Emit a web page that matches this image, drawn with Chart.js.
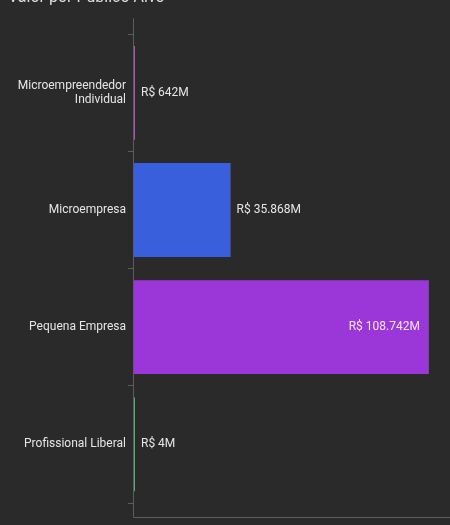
<!DOCTYPE html>
<html>
<head>
<meta charset="utf-8">
<script src="https://cdn.jsdelivr.net/npm/chart.js@4"></script>
<style>
  html, body { margin: 0; padding: 0; background: #2a2a2a; overflow: hidden; }
  #wrap { position: absolute; left: 0; top: -20px; width: 450px; height: 545px; }
</style>
</head>
<body>
<div id="wrap"><canvas id="chart"></canvas></div>
<script>
const categories = [['Microempreendedor', 'Individual'], 'Microempresa', 'Pequena Empresa', 'Profissional Liberal'];
const values = [642, 35868, 108742, 4];
const barColors = ['#b84dbb', '#3a5fdc', '#9b36d9', '#4caf78'];
const axisMax = 116500;

Chart.defaults.font.family = 'Roboto, sans-serif';
Chart.defaults.color = '#e6e6e6';

function fmt(v) {
    return 'R$ ' + v.toLocaleString('pt-BR') + 'M';
}

// axis lines reach past the category bands in the reference
const axisLines = {
    id: 'axisLines',
    afterDraw(chart) {
        const ctx = chart.ctx;
        const a = chart.chartArea;
        ctx.save();
        ctx.strokeStyle = '#5c5c5c';
        ctx.lineWidth = 1;
        ctx.beginPath();
        ctx.moveTo(a.left + 0.5, a.top - 16);
        ctx.lineTo(a.left + 0.5, a.bottom + 14.5);
        ctx.lineTo(chart.width, a.bottom + 14.5);
        ctx.stroke();
        ctx.restore();
    }
};

// value labels: outside for short bars, inside right for long ones
const barLabels = {
    id: 'barLabels',
    afterDatasetsDraw(chart) {
        const ctx = chart.ctx;
        const meta = chart.getDatasetMeta(0);
        ctx.save();
        ctx.font = '12px Roboto, sans-serif';
        ctx.textBaseline = 'middle';
        meta.data.forEach((bar, i) => {
            const text = fmt(values[i]);
            if (values[i] > axisMax / 2) {
                ctx.textAlign = 'right';
                ctx.fillStyle = '#f4e8fb';
                ctx.fillText(text, bar.x - 9, bar.y);
            } else {
                ctx.textAlign = 'left';
                ctx.fillStyle = '#e6e6e6';
                ctx.fillText(text, Math.max(bar.x, bar.base + 2) + 6, bar.y);
            }
        });
        ctx.restore();
    }
};

new Chart(document.getElementById('chart'), {
    type: 'bar',
    data: {
        labels: categories,
        datasets: [{
            data: values,
            backgroundColor: barColors,
            borderWidth: 0,
            minBarLength: 2,
            barPercentage: 1,
            categoryPercentage: 0.8
        }]
    },
    options: {
        indexAxis: 'y',
        responsive: true,
        maintainAspectRatio: false,
        animation: false,
        layout: { padding: { left: 8, right: 0, top: 0, bottom: 22 } },
        plugins: {
            legend: { display: false },
            tooltip: { enabled: false },
            title: {
                display: true,
                text: 'Valor por Público Alvo',
                align: 'start',
                color: '#dcdcdc',
                font: { size: 16, weight: 'normal' },
                padding: { top: 8, bottom: 27 }
            }
        },
        scales: {
            x: {
                display: false,
                min: 0,
                max: axisMax
            },
            y: {
                afterFit(scale) { scale.width = 125; },
                border: { display: false },
                grid: {
                    drawOnChartArea: false,
                    tickLength: 5,
                    color: '#5c5c5c'
                },
                ticks: {
                    color: '#e6e6e6',
                    font: { size: 12 },
                    padding: 2
                }
            }
        }
    },
    plugins: [axisLines, barLabels]
});
</script>
</body>
</html>
